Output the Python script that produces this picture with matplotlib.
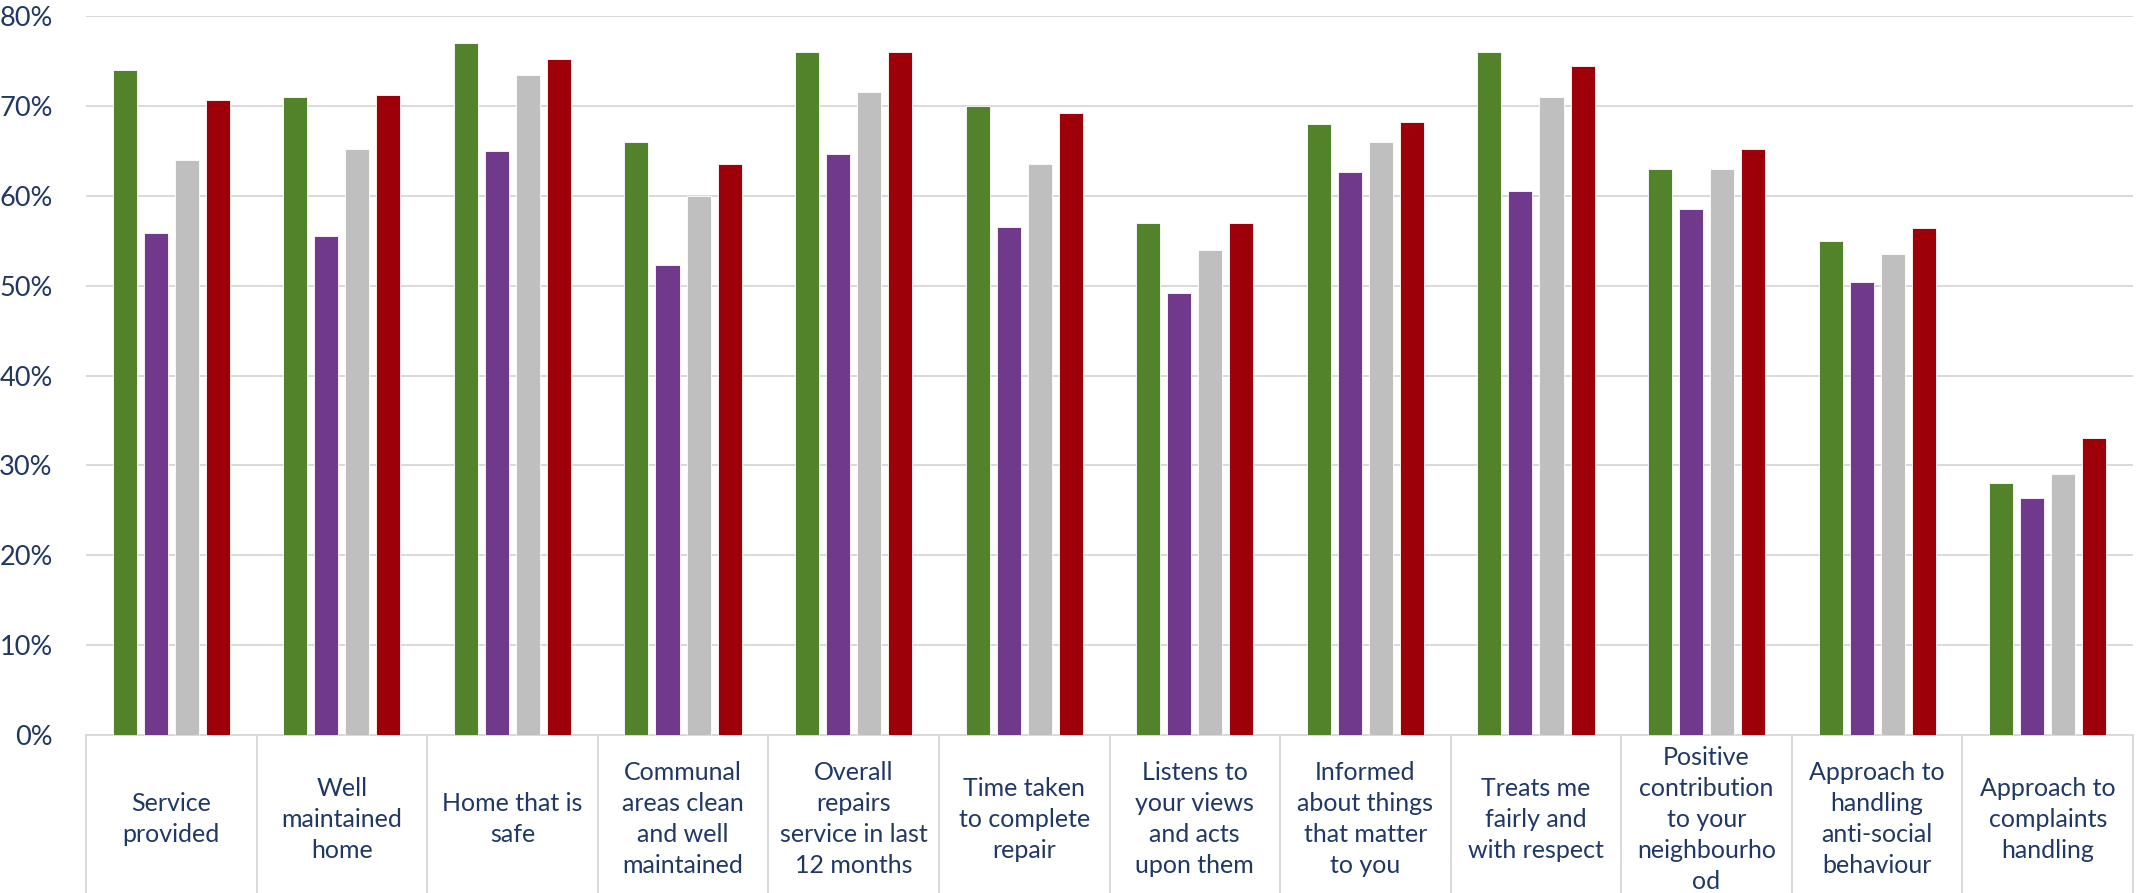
import numpy as np
import matplotlib.pyplot as plt
from matplotlib.ticker import PercentFormatter
import matplotlib.transforms as mtransforms

# Donnees (en %)
categories = ["Service\nprovided", "Well\nmaintained\nhome", "Home that is\nsafe",
              "Communal\nareas clean\nand well\nmaintained",
              "Overall\nrepairs\nservice in last\n12 months",
              "Time taken\nto complete\nrepair", "Listens to\nyour views\nand acts\nupon them",
              "Informed\nabout things\nthat matter\nto you", "Treats me\nfairly and\nwith respect",
              "Positive\ncontribution\nto your\nneighbourho\nod",
              "Approach to\nhandling\nanti-social\nbehaviour",
              "Approach to\ncomplaints\nhandling"]
green = [74, 71, 77, 66, 76, 70, 57, 68, 76, 63, 55, 28]
purple = [55.8, 55.5, 65, 52.3, 64.7, 56.5, 49.2, 62.6, 60.5, 58.5, 50.4, 26.4]
grey = [64, 65.2, 73.4, 60, 71.5, 63.5, 54, 66, 71, 63, 53.5, 29]
red = [70.7, 71.2, 75.2, 63.5, 76, 69.2, 57, 68.2, 74.4, 65.2, 56.4, 33]

series = [green, purple, grey, red]
colors = ["#52822A", "#70398C", "#BFBFBF", "#9E000A"]
txt = "#203864"
gridc = "#D9D9D9"

plt.rcParams['font.family'] = ['Lato', 'DejaVu Sans']

fig = plt.figure(figsize=(21.39, 8.93), dpi=100)
ax = fig.add_axes([86/2139, 1-735/893, (2133-86)/2139, (735-16)/893])

x = np.arange(len(categories))
pitch = 0.182
width = 0.141
for i, (vals, c) in enumerate(zip(series, colors)):
    ax.bar(x + (i-1.5)*pitch, np.array(vals)/100, width, color=c,
           edgecolor='white', linewidth=0.6, zorder=3)

ax.set_xlim(-0.5, len(categories)-0.5)
ax.set_ylim(0, 0.8)
ax.set_yticks(np.arange(0, 0.81, 0.1))
ax.yaxis.set_major_formatter(PercentFormatter(1.0, decimals=0))
ax.grid(axis='y', color=gridc, linewidth=1.4, zorder=0)
ax.tick_params(axis='y', length=0, pad=24, labelsize=19.5, labelcolor=txt)
ax.tick_params(axis='x', length=0, labelbottom=False)
for s in ['top', 'right', 'left']:
    ax.spines[s].set_visible(False)
ax.spines['bottom'].set_color(gridc)
ax.spines['bottom'].set_linewidth(1.4)

# cases des libelles sous l'axe
trans = mtransforms.blended_transform_factory(ax.transData, ax.transAxes)
for b in np.arange(len(categories)+1) - 0.5:
    ax.plot([b, b], [0, -0.3], transform=trans, color=gridc, linewidth=1.4, clip_on=False)
for xi, lab in zip(x, categories):
    ax.text(xi, -0.117, lab, transform=trans, ha='center', va='center',
            fontsize=18, color=txt, linespacing=1.42)

fig.savefig("out.png", dpi=100)
